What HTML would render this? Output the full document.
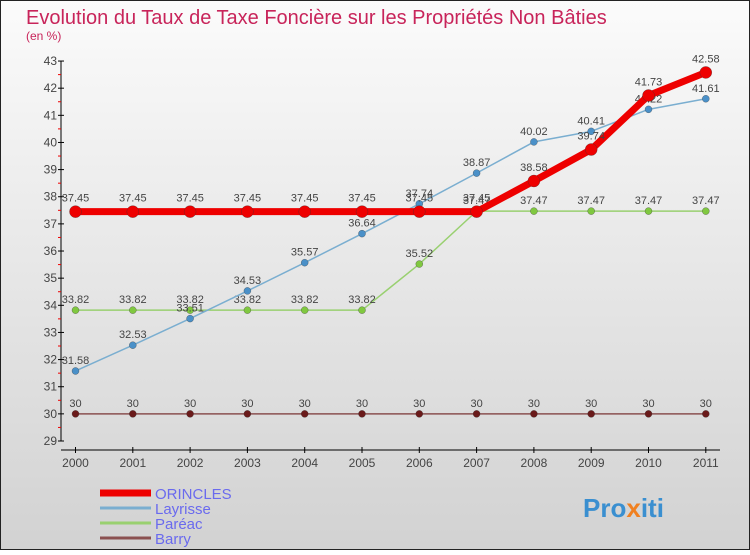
<!DOCTYPE html>
<html><head><meta charset="utf-8"><style>
body{margin:0;width:750px;height:550px;overflow:hidden;font-family:"Liberation Sans",sans-serif}
</style></head><body>
<svg id="c" width="750" height="550" xmlns="http://www.w3.org/2000/svg">
<defs><linearGradient id="bg" x1="0" y1="0" x2="0" y2="1"><stop offset="0" stop-color="#fbfbfb"/><stop offset="1" stop-color="#d2d2d2"/></linearGradient></defs>
<rect x="0.5" y="0.5" width="749" height="549" fill="url(#bg)" stroke="#222"/>
<text x="26" y="24" font-size="20" fill="#c8245a">Evolution du Taux de Taxe Foncière sur les Propriétés Non Bâties</text>
<text x="26" y="40" font-size="12" fill="#c8245a">(en %)</text>
<g id="axes"></g><g id="series"></g><g id="legend"></g>
<text x="583" y="517" font-size="26" font-weight="bold" fill="#3a8fd0">Pro<tspan fill="#f08020">x</tspan>iti</text>
</svg>
<script>
const years=["2000","2001","2002","2003","2004","2005","2006","2007","2008","2009","2010","2011"];
const yTicks=[29,30,31,32,33,34,35,36,37,38,39,40,41,42,43];
const orincles=[37.45,37.45,37.45,37.45,37.45,37.45,37.45,37.45,38.58,39.74,41.73,42.58];
const layrisse=[31.58,32.53,33.51,34.53,35.57,36.64,37.74,38.87,40.02,40.41,41.22,41.61];
const pareac=[33.82,33.82,33.82,33.82,33.82,33.82,35.52,37.47,37.47,37.47,37.47,37.47];
const barry=[30,30,30,30,30,30,30,30,30,30,30,30];
const NS="http://www.w3.org/2000/svg";
const X=i=>75.5+i*57.3, Y=v=>441-(v-29)*27.14;
function mk(p,t,a){const e=document.createElementNS(NS,t);for(const k in a)e.setAttribute(k,a[k]);p.appendChild(e);return e;}
const ax=document.getElementById('axes');
let l=mk(ax,'line',{x1:61,y1:Y(43),x2:61,y2:441,stroke:'#000'});

l=mk(ax,'line',{x1:61,y1:450,x2:720,y2:450,stroke:'#000'});

yTicks.forEach((v,i)=>{mk(ax,'line',{x1:58,y1:Y(v),x2:64,y2:Y(v),stroke:'#000'});
 if(i<yTicks.length-1)mk(ax,'line',{x1:58,y1:Y(v+0.5),x2:61,y2:Y(v+0.5),stroke:'#e00'});
 const t=mk(ax,'text',{x:57,y:Y(v)+4,'font-size':12,fill:'#444','text-anchor':'end'});t.textContent=v;
 });
years.forEach((y,i)=>{mk(ax,'line',{x1:X(i),y1:447,x2:X(i),y2:453,stroke:'#000'});
 const t=mk(ax,'text',{x:X(i),y:467,'font-size':12,fill:'#444','text-anchor':'middle'});t.textContent=y;
 });
const sg=document.getElementById('series');
function series(name,data,color,w,r,dot,lblOff){
 const g=mk(sg,'g',{});
 mk(g,'polyline',{points:data.map((v,i)=>X(i)+','+Y(v)).join(' '),fill:'none',stroke:color,'stroke-width':w,'stroke-linejoin':'round'});
 data.forEach((v,i)=>{const c=mk(g,'circle',{cx:X(i),cy:Y(v),r:r,fill:dot,stroke:'#333','stroke-width':0.3});
  
  const t=mk(g,'text',{x:X(i),y:Y(v)-lblOff,'font-size':11,fill:'#444','text-anchor':'middle'});t.textContent=v;
  });
}
series('barry',barry,'#8a5050',1.5,3.5,'#6a1a1a',7);
series('pareac',pareac,'#99d070',1.5,3.5,'#80c840',7);
series('layrisse',layrisse,'#7aaed0',1.5,3.5,'#4a90c8',7);
series('orincles',orincles,'#ee0000',7,6,'#ee0000',10);
const lg=document.getElementById('legend');
const names=["ORINCLES","Layrisse","Paréac","Barry"],cols=['#ee0000','#7aaed0','#99d070','#8a5050'],ws=[7,3,3,3];
names.forEach((n,i)=>{const y=493+i*15;const g=mk(lg,'g',{});
 
 mk(g,'line',{x1:100,y1:y,x2:151,y2:y,stroke:cols[i],'stroke-width':ws[i]});
 const t=mk(g,'text',{x:155,y:y+6,'font-size':15,fill:'#6a6aee'});t.textContent=n;});
</script>
</body></html>
